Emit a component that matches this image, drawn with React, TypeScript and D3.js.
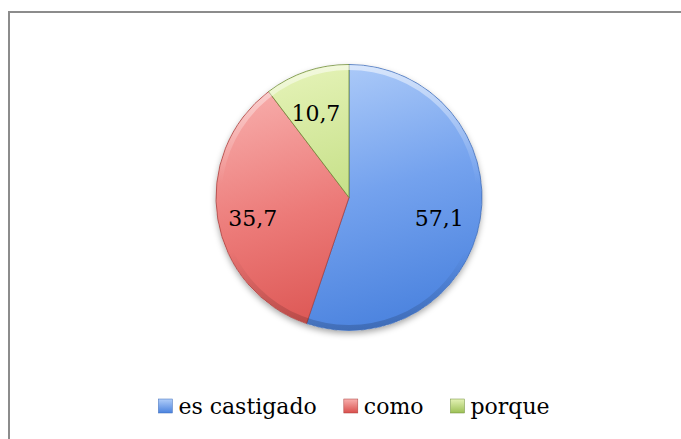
import React, { useEffect, useRef } from 'react';
import * as d3 from 'd3';

const categories = ['es castigado', 'como', 'porque'];
const values = [57.1, 35.7, 10.7];
const valueLabels = ['57,1', '35,7', '10,7'];

const fills = [
  { light: '#b0cdf9', mid: '#74a2ee', dark: '#4a82de', edge: '#3f6cb8' },
  { light: '#f8b0ae', mid: '#ec7a78', dark: '#d94f4c', edge: '#a8403e' },
  { light: '#e4f2b6', mid: '#c6e088', dark: '#9cc055', edge: '#6f8c3a' },
];

const W = 681;
const H = 439;
const font = "'DejaVu Serif', serif";

export default function App() {
  const ref = useRef<SVGSVGElement>(null);

  useEffect(() => {
    const svg = d3.select(ref.current);
    svg.selectAll('*').remove();

    const cx = 349;
    const cy = 197.5;
    const r = 133;

    const defs = svg.append('defs');
    fills.forEach((f, i) => {
      const g = defs.append('linearGradient')
        .attr('id', 'g' + i)
        .attr('gradientUnits', 'userSpaceOnUse')
        .attr('x1', -r * 0.3).attr('y1', -r)
        .attr('x2', r * 0.3).attr('y2', r);
      g.append('stop').attr('offset', '0').attr('stop-color', f.light);
      g.append('stop').attr('offset', '0.5').attr('stop-color', f.mid);
      g.append('stop').attr('offset', '1').attr('stop-color', f.dark);

      const m = defs.append('linearGradient')
        .attr('id', 'm' + i)
        .attr('x1', 0).attr('y1', 0).attr('x2', 0).attr('y2', 1);
      m.append('stop').attr('offset', '0').attr('stop-color', f.light);
      m.append('stop').attr('offset', '1').attr('stop-color', f.dark);
    });

    // rim bevel: light at the top, darker at the bottom
    const rim = defs.append('linearGradient')
      .attr('id', 'rim')
      .attr('gradientUnits', 'userSpaceOnUse')
      .attr('x1', 0).attr('y1', -r).attr('x2', 0).attr('y2', r);
    rim.append('stop').attr('offset', '0').attr('stop-color', '#fff').attr('stop-opacity', 0.55);
    rim.append('stop').attr('offset', '0.45').attr('stop-color', '#fff').attr('stop-opacity', 0);
    rim.append('stop').attr('offset', '0.7').attr('stop-color', '#000').attr('stop-opacity', 0);
    rim.append('stop').attr('offset', '1').attr('stop-color', '#000').attr('stop-opacity', 0.18);

    const shadow = defs.append('filter').attr('id', 'shadow')
      .attr('x', '-20%').attr('y', '-20%').attr('width', '140%').attr('height', '140%');
    shadow.append('feDropShadow')
      .attr('dx', 0).attr('dy', 3).attr('stdDeviation', 3)
      .attr('flood-color', '#000').attr('flood-opacity', 0.35);

    // frame: only left and top sides are inside the picture
    svg.append('path')
      .attr('d', `M9,${H + 5}V12H${W + 5}`)
      .attr('fill', 'none')
      .attr('stroke', '#8c8c8c').attr('stroke-width', 2);

    const pie = d3.pie<number>().sort(null).value(d => d);
    const arcs = pie(values);
    const arc = d3.arc<d3.PieArcDatum<number>>().innerRadius(0).outerRadius(r);
    const labelArc = d3.arc<d3.PieArcDatum<number>>().innerRadius(r * 0.71).outerRadius(r * 0.71);

    const g = svg.append('g').attr('transform', `translate(${cx},${cy})`);
    g.append('circle').attr('r', r).attr('fill', '#fff').attr('filter', 'url(#shadow)');

    g.selectAll('path.slice')
      .data(arcs)
      .join('path')
      .attr('class', 'slice')
      .attr('d', arc)
      .attr('fill', (_, i) => `url(#g${i})`)
      .attr('stroke', (_, i) => fills[i].edge)
      .attr('stroke-width', 0.8);

    g.append('circle')
      .attr('r', r - 3)
      .attr('fill', 'none')
      .attr('stroke', 'url(#rim)')
      .attr('stroke-width', 5);

    g.selectAll('text.val')
      .data(arcs)
      .join('text')
      .attr('class', 'val')
      .attr('transform', d => {
        const [x, y] = labelArc.centroid(d);
        return `translate(${x - 3},${y + 5})`;
      })
      .attr('text-anchor', 'middle')
      .attr('dy', '0.36em')
      .attr('font-family', font)
      .attr('font-size', 22)
      .attr('fill', '#000')
      .text((_, i) => valueLabels[i]);

    // legend
    const legend = svg.append('g');
    const box = 14;
    const gapIn = 6;
    const gapOut = 27;
    let x = 0;
    categories.forEach((c, i) => {
      const item = legend.append('g').attr('transform', `translate(${x},0)`);
      item.append('rect')
        .attr('x', 0).attr('y', -box / 2)
        .attr('width', box).attr('height', box)
        .attr('fill', `url(#m${i})`)
        .attr('stroke', fills[i].edge).attr('stroke-width', 0.5);
      const t = item.append('text')
        .attr('x', box + gapIn)
        .attr('dy', '0.36em')
        .attr('font-family', font)
        .attr('font-size', 22)
        .attr('fill', '#000')
        .text(c);
      const w = (t.node() as SVGTextElement).getComputedTextLength();
      x += box + gapIn + w + gapOut;
    });
    const total = x - gapOut;
    legend.attr('transform', `translate(${354 - total / 2},${406})`);
  }, []);

  return (
    <svg
      ref={ref}
      width={W}
      height={H}
      style={{ position: 'absolute', left: 0, top: 0, background: '#fff' }}
    />
  );
}
